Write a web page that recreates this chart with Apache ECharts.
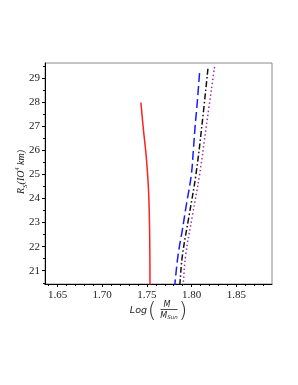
<!DOCTYPE html>
<html><head><meta charset="utf-8">
<script src="https://cdn.jsdelivr.net/npm/echarts@6/dist/echarts.min.js"></script>
<style>html,body{margin:0;padding:0;background:#fff}#c{width:298px;height:385px}</style>
</head><body><div id="c"></div>
<script>
// ---- data ----
const xTickValues = [1.65, 1.70, 1.75, 1.80, 1.85];
const xMinorValues = [1.64,1.66,1.67,1.68,1.69,1.71,1.72,1.73,1.74,1.76,1.77,1.78,1.79,1.81,1.82,1.83,1.84,1.86,1.87,1.88];
const yTickValues = [21, 22, 23, 24, 25, 26, 27, 28, 29];
const yMinorValues = [20.5,21.5,22.5,23.5,24.5,25.5,26.5,27.5,28.5,29.5];

const redX = [1.7433, 1.7460, 1.7488, 1.7508, 1.7521, 1.7529, 1.7533, 1.7535];
const redY = [27.98, 26.9, 25.93, 25.0, 24.13, 23.0, 21.8, 20.3];

const blueX = [1.8089, 1.8064, 1.8040, 1.8020, 1.7997, 1.7944, 1.7897, 1.7849, 1.7813, 1.7808];
const blueY = [29.2, 28, 27, 26, 24.97, 23.79, 22.7, 21.65, 20.45, 20.3];

const blackX = [1.8183, 1.8115, 1.8048, 1.7973, 1.7898, 1.7869, 1.7864];
const blackY = [29.38, 27, 24.97, 23.3, 21.65, 20.45, 20.3];

const purpleX = [1.8257, 1.8165, 1.8089, 1.8010, 1.7934, 1.7906, 1.7901];
const purpleY = [29.46, 27, 24.97, 23.3, 21.65, 20.45, 20.3];

const zip = (xs, ys) => xs.map((x, i) => [x, ys[i]]);

const X_MIN = 1.636, X_MAX = 1.89, Y_MIN = 20.45, Y_MAX = 29.62;
const SERIF = 'Liberation Serif';

const chart = echarts.init(document.getElementById('c'), null, {renderer: 'canvas'});
const tickRich = {a: {fontFamily: SERIF, fontSize: 11, color: '#222'}};

chart.setOption({
  animation: false,
  textStyle: {fontFamily: SERIF},
  grid: {left: 45, top: 63, right: 26, bottom: 101, show: true, borderColor: '#8a8a8a', borderWidth: 1, backgroundColor: 'transparent'},
  xAxis: [
    {type: 'value', min: X_MIN, max: X_MAX, splitLine: {show: false},
     axisLine: {show: true, onZero: false, lineStyle: {color: '#000', width: 1}},
     axisTick: {show: true, inside: false, length: 3, customValues: xTickValues, lineStyle: {color: '#000'}},
     axisLabel: {show: true, margin: 6, customValues: xTickValues, fontFamily: SERIF, fontSize: 11, color: '#222',
       formatter: v => '{a|' + v.toFixed(2) + '}', rich: tickRich}},
    {type: 'value', min: X_MIN, max: X_MAX, position: 'bottom', splitLine: {show: false},
     axisLine: {show: false, onZero: false},
     axisTick: {show: true, inside: false, length: 2, customValues: xMinorValues, lineStyle: {color: '#000'}},
     axisLabel: {show: false}}
  ],
  yAxis: [
    {type: 'value', min: Y_MIN, max: Y_MAX, splitLine: {show: false},
     axisLine: {show: true, onZero: false, lineStyle: {color: '#000', width: 1}},
     axisTick: {show: true, inside: false, length: 3, customValues: yTickValues, lineStyle: {color: '#000'}},
     axisLabel: {show: true, margin: 5, customValues: yTickValues, fontFamily: SERIF, fontSize: 11, color: '#222',
       formatter: v => '{a|' + v + '}', rich: tickRich}},
    {type: 'value', min: Y_MIN, max: Y_MAX, position: 'left', splitLine: {show: false},
     axisLine: {show: false, onZero: false},
     axisTick: {show: true, inside: false, length: 2, customValues: yMinorValues, lineStyle: {color: '#000'}},
     axisLabel: {show: false}}
  ],
  series: [
    {type: 'line', data: zip(redX, redY), smooth: 0.4, symbol: 'none', clip: true,
     lineStyle: {color: '#ff2020', width: 1.5}},
    {type: 'line', data: zip(blueX, blueY), smooth: 0.4, symbol: 'none', clip: true,
     lineStyle: {color: '#1a1aff', width: 1.5, type: [9, 4]}},
    {type: 'line', data: zip(blackX, blackY), smooth: 0.4, symbol: 'none', clip: true,
     lineStyle: {color: '#111', width: 1.5, type: [6, 2.5, 1.5, 2.5]}},
    {type: 'line', data: zip(purpleX, purpleY), smooth: 0.4, symbol: 'none', clip: true,
     lineStyle: {color: '#a030a8', width: 1.5, type: [1.5, 2.5]}}
  ],
  graphic: [
    {type: 'text', x: 21.5, y: 172, rotation: Math.PI / 2,
     style: {text: '{r|R}{s|S}{t|(IO}{p|4}{t| km)}', align: 'center', verticalAlign: 'middle',
       rich: {
         r: {fontFamily: SERIF, fontStyle: 'italic', fontSize: 10, fill: '#222', lineHeight: 14},
         s: {fontFamily: SERIF, fontStyle: 'italic', fontSize: 7, fill: '#222', lineHeight: 14, verticalAlign: 'bottom'},
         t: {fontFamily: SERIF, fontStyle: 'italic', fontSize: 10, fill: '#222', lineHeight: 14},
         p: {fontFamily: SERIF, fontStyle: 'italic', fontSize: 6, fill: '#222', lineHeight: 14, verticalAlign: 'top'}
       }}},
    {type: 'text', x: 147, y: 311, style: {text: 'Log', align: 'right', verticalAlign: 'middle',
      fontFamily: 'DejaVu Sans', fontStyle: 'italic', fontSize: 9.5, fill: '#222'}},
    {type: 'text', x: 152, y: 311, style: {text: '(', align: 'center', verticalAlign: 'middle',
      fontFamily: 'DejaVu Sans', fontSize: 22, fontWeight: 100, fill: '#333'}},
    {type: 'text', x: 167, y: 304.5, style: {text: 'M', align: 'center', verticalAlign: 'middle',
      fontFamily: 'DejaVu Sans', fontStyle: 'italic', fontSize: 8, fill: '#222'}},
    {type: 'line', shape: {x1: 160.5, y1: 309.5, x2: 177.5, y2: 309.5}, style: {stroke: '#222', lineWidth: 0.8}},
    {type: 'text', x: 169, y: 316, style: {text: '{m|M}{s|Sun}', align: 'center', verticalAlign: 'middle',
      rich: {
        m: {fontFamily: 'DejaVu Sans', fontStyle: 'italic', fontSize: 8, fill: '#222', lineHeight: 10},
        s: {fontFamily: 'DejaVu Sans', fontStyle: 'italic', fontSize: 5.5, fill: '#222', lineHeight: 10, verticalAlign: 'bottom'}
      }}},
    {type: 'text', x: 183, y: 311, style: {text: ')', align: 'center', verticalAlign: 'middle',
      fontFamily: 'DejaVu Sans', fontSize: 22, fontWeight: 100, fill: '#333'}}
  ]
});
</script>
</body></html>
